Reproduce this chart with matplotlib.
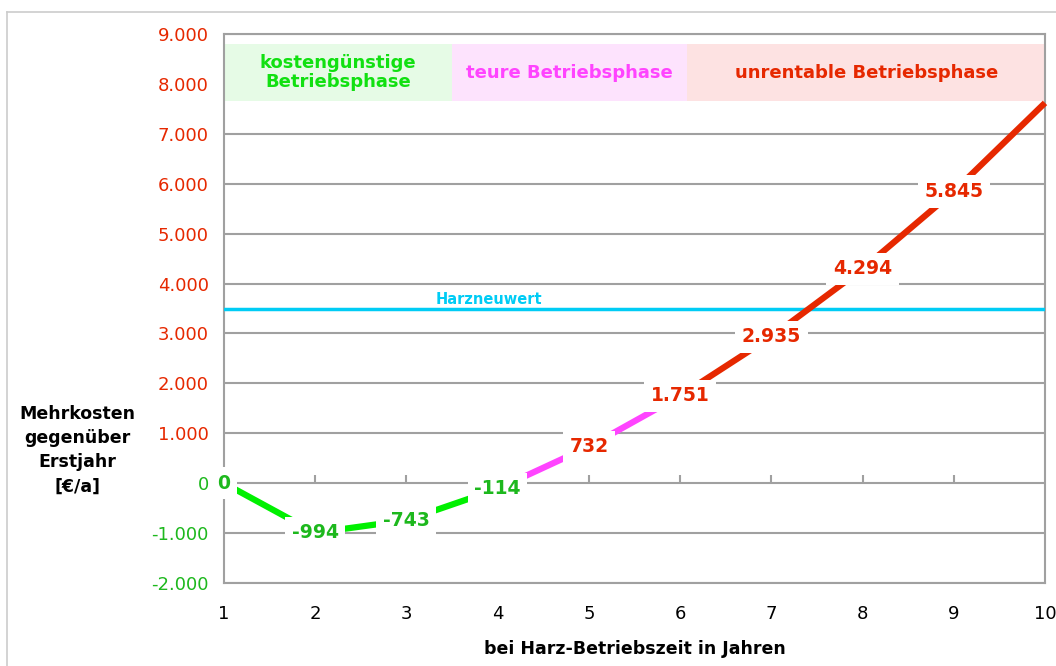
import numpy as np
from matplotlib import pyplot as plt
from matplotlib.lines import Line2D

# data
years = [1, 2, 3, 4, 5, 6, 7, 8, 9, 10]
extra_cost = [0, -994, -743, -114, 732, 1751, 2935, 4294, 5845, 7620]
point_labels = ['0', '-994', '-743', '-114', '732', '1.751', '2.935', '4.294', '5.845', '']
segment_phase = [0, 0, 0, 1, 1, 2, 2, 2, 2]
label_phase = [0, 0, 0, 0, 2, 2, 2, 2, 2, 2]

phase_names = ['kostengünstige\nBetriebsphase', 'teure Betriebsphase', 'unrentable Betriebsphase']
phase_bounds = [1, 3.5, 6.08, 10]
phase_band = (7650, 8800)
resin_new_value = 3480
resin_label = 'Harzneuwert'

y_ticks = list(range(-2000, 9001, 1000))

LINE_COLORS = ['#00F000', '#FF44FF', '#E62800']
LABEL_COLORS = ['#1DB81D', '#FF44FF', '#E62800']
BAND_COLORS = ['#E6FBE6', '#FDE3FD', '#FDE2E2']
PHASE_TEXT_COLORS = ['#11E011', '#FF44FF', '#E62800']
GRID = '#A0A0A0'

plt.rcParams['font.family'] = ['DejaVu Sans']


def fmt_de(v):
    return f"{v:,}".replace(',', '.')


def main():
    fig = plt.figure(figsize=(10.56, 6.66), dpi=100)
    ax = fig.add_axes([224 / 1056, 1 - 583 / 666, (1045 - 224) / 1056, (583 - 34) / 666])

    # outer chart border
    fig.add_artist(Line2D([7 / 1056, 7 / 1056], [0, 1 - 12 / 666], color='#CCCCCC', lw=1.2))
    fig.add_artist(Line2D([7 / 1056, 1], [1 - 12 / 666, 1 - 12 / 666], color='#CCCCCC', lw=1.2))

    ax.set_xlim(years[0], years[-1])
    ax.set_ylim(y_ticks[0], y_ticks[-1])

    # gridlines
    for y in y_ticks:
        ax.axhline(y, color=GRID, lw=1.5, zorder=1)
    # small ticks on the zero line
    ax.vlines(years[1:-1], 0, 170, color=GRID, lw=1.5, zorder=1)

    for s in ['left', 'right', 'bottom', 'top']:
        ax.spines[s].set_color(GRID)
        ax.spines[s].set_linewidth(1.5)

    # phase bands
    for i, name in enumerate(phase_names):
        x0, x1 = phase_bounds[i], phase_bounds[i + 1]
        ax.fill_between([x0, x1], phase_band[0], phase_band[1], color=BAND_COLORS[i],
                        lw=0, zorder=2)
        ax.text((x0 + x1) / 2, (phase_band[0] + phase_band[1]) / 2, name,
                color=PHASE_TEXT_COLORS[i], fontsize=13, fontweight='bold',
                ha='center', va='center', linespacing=1.1, zorder=3)

    # resin replacement value
    ax.axhline(resin_new_value, color='#00CCF5', lw=2.5, zorder=3)
    ax.text(3.9, resin_new_value + 60, resin_label, color='#00CCF5', fontsize=10.5,
            fontweight='bold', ha='center', va='bottom', zorder=3)

    # cost line, coloured per segment
    for i, ph in enumerate(segment_phase):
        ax.plot(years[i:i + 2], extra_cost[i:i + 2], color=LINE_COLORS[ph], lw=4.5,
                solid_capstyle='butt', zorder=4, clip_on=False)

    for x, y, lab, ph in zip(years, extra_cost, point_labels, label_phase):
        if not lab:
            continue
        ax.text(x, y, lab, color=LABEL_COLORS[ph], fontsize=13.5, fontweight='bold',
                ha='center', va='center', zorder=5,
                bbox=dict(boxstyle='square,pad=0.35', fc='white', ec='none'))

    ax.set_yticks(y_ticks)
    ax.set_yticklabels([fmt_de(v) for v in y_ticks], fontsize=13)
    for lab, v in zip(ax.get_yticklabels(), y_ticks):
        lab.set_color(LABEL_COLORS[2] if v > 0 else LABEL_COLORS[0])
    ax.set_xticks(years)
    ax.set_xticklabels([str(x) for x in years], fontsize=13)
    ax.tick_params(axis='y', length=0, pad=11)
    ax.tick_params(axis='x', length=0, pad=16)

    ax.set_xlabel('bei Harz-Betriebszeit in Jahren', fontsize=12.5, fontweight='bold',
                  labelpad=12)
    fig.text(77 / 1056, 1 - 450 / 666, 'Mehrkosten\ngegenüber\nErstjahr\n[€/a]',
             fontsize=12.5, fontweight='bold', ha='center', va='center', linespacing=1.45)

    fig.savefig('out.png', dpi=100, facecolor='white')


if __name__ == "__main__":
    main()
